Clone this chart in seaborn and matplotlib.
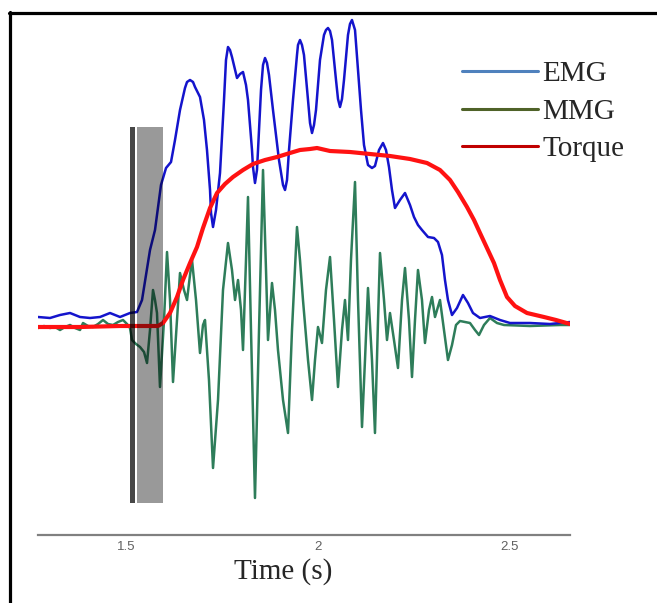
import numpy as np
import pandas as pd
import matplotlib
matplotlib.use("Agg")
import matplotlib.pyplot as plt
from matplotlib.lines import Line2D
import seaborn as sns

# time axis (s) and signal amplitudes (arbitrary units, 0 = resting baseline)
emg_t = [1.2708, 1.3021, 1.3281, 1.3542, 1.3802, 1.4063, 1.4323, 1.4583, 1.4844, 1.5104,
         1.5286, 1.5417, 1.5625, 1.5755, 1.5911, 1.6042, 1.6172, 1.6276, 1.6406, 1.6536,
         1.6589, 1.6667, 1.6745, 1.6797, 1.6927, 1.7031, 1.7109, 1.7188, 1.7214, 1.7266,
         1.7344, 1.7448, 1.7552, 1.7604, 1.7656, 1.7708, 1.7760, 1.7891, 1.7969, 1.8047,
         1.8125, 1.8177, 1.8281, 1.8307, 1.8359, 1.8411, 1.8438, 1.8516, 1.8568, 1.8620,
         1.8672, 1.8724, 1.8828, 1.8984, 1.9089, 1.9141, 1.9193, 1.9245, 1.9349, 1.9453,
         1.9479, 1.9531, 1.9583, 1.9635, 1.9740, 1.9792, 1.9844, 1.9896, 1.9948, 2.0052,
         2.0156, 2.0208, 2.0260, 2.0313, 2.0365, 2.0469, 2.0521, 2.0573, 2.0625, 2.0677,
         2.0781, 2.0833, 2.0885, 2.0964, 2.1042, 2.1120, 2.1198, 2.1302, 2.1406, 2.1484,
         2.1589, 2.1693, 2.1771, 2.1849, 2.1927, 2.2005, 2.2135, 2.2266, 2.2396, 2.2500,
         2.2604, 2.2708, 2.2865, 2.3021, 2.3125, 2.3229, 2.3307, 2.3385, 2.3490, 2.3620,
         2.3776, 2.3906, 2.4036, 2.4219, 2.4479, 2.4740, 2.5000, 2.5521, 2.6042, 2.6563]
emg = [8, 7, 10, 12, 8, 7, 8, 12, 8, 12,
       13, 25, 75, 95, 140, 157, 163, 185, 215, 237,
       243, 245, 243, 238, 228, 205, 175, 135, 112, 98,
       115, 152, 225, 265, 278, 275, 268, 247, 251, 253,
       240, 225, 175, 158, 142, 155, 175, 235, 260, 267,
       262, 250, 215, 165, 140, 135, 145, 175, 225, 270,
       280, 285, 280, 270, 225, 202, 192, 200, 215, 265,
       290, 295, 297, 294, 285, 245, 226, 218, 226, 245,
       290, 301, 305, 295, 255, 215, 180, 160, 157, 159,
       175, 182, 175, 158, 135, 117, 125, 132, 120, 108,
       100, 95, 88, 87, 83, 70, 45, 25, 10, 17,
       30, 22, 12, 7, 9, 5, 2, 2, 1, 3]

torque_t = [1.2708, 1.3802, 1.4844, 1.5833, 1.5964, 1.6146, 1.6328, 1.6484, 1.6667, 1.6849,
            1.7005, 1.7188, 1.7370, 1.7578, 1.7786, 1.8047, 1.8307, 1.8620, 1.8932, 1.9271,
            1.9531, 1.9792, 1.9974, 2.0313, 2.0833, 2.1354, 2.1875, 2.2396, 2.2839, 2.3177,
            2.3438, 2.3646, 2.3880, 2.4063, 2.4219, 2.4401, 2.4583, 2.4740, 2.4922, 2.5130,
            2.5443, 2.5885, 2.6198, 2.6563]
torque = [-2, -2, -1, -1, 2, 12, 28, 45, 62, 78,
          97, 117, 132, 141, 148, 155, 161, 165, 168, 172,
          175, 176, 177, 174, 173, 171, 169, 166, 162, 155,
          145, 133, 118, 105, 92, 77, 62, 45, 28, 19,
          12, 8, 5, 1]

mmg_t = [1.2708, 1.2865, 1.3021, 1.3151, 1.3281, 1.3411, 1.3542, 1.3672, 1.3802, 1.3880,
         1.4010, 1.4141, 1.4271, 1.4401, 1.4531, 1.4661, 1.4792, 1.4922, 1.5026, 1.5104,
         1.5156, 1.5260, 1.5365, 1.5469, 1.5547, 1.5625, 1.5703, 1.5755, 1.5807, 1.5885,
         1.5990, 1.6068, 1.6146, 1.6224, 1.6328, 1.6406, 1.6510, 1.6589, 1.6667, 1.6719,
         1.6823, 1.6927, 1.7005, 1.7057, 1.7161, 1.7266, 1.7396, 1.7526, 1.7656, 1.7760,
         1.7839, 1.7917, 1.7995, 1.8047, 1.8125, 1.8177, 1.8255, 1.8359, 1.8464, 1.8568,
         1.8646, 1.8698, 1.8802, 1.8880, 1.8958, 1.9089, 1.9219, 1.9323, 1.9453, 1.9531,
         1.9609, 1.9740, 1.9844, 1.9922, 2.0000, 2.0104, 2.0208, 2.0313, 2.0417, 2.0521,
         2.0625, 2.0703, 2.0781, 2.0859, 2.0964, 2.1042, 2.1146, 2.1224, 2.1302, 2.1406,
         2.1484, 2.1563, 2.1615, 2.1719, 2.1797, 2.1875, 2.1979, 2.2083, 2.2188, 2.2266,
         2.2370, 2.2448, 2.2526, 2.2604, 2.2708, 2.2786, 2.2891, 2.2969, 2.3047, 2.3177,
         2.3281, 2.3385, 2.3490, 2.3594, 2.3698, 2.3828, 2.3958, 2.4089, 2.4193, 2.4323,
         2.4479, 2.4661, 2.4844, 2.5521, 2.6302, 2.6563]
mmg = [-3, -1, -3, -2, -5, -2, 0, -3, -5, 2,
       -1, -2, 1, 5, 1, 0, 3, 5, 1, -3,
       -15, -19, -22, -27, -38, -5, 35, 25, 12, -62,
       5, 73, 25, -57, 5, 52, 35, 25, 50, 65,
       25, -28, 0, 5, -55, -143, -75, 35, 82, 55,
       25, 45, 15, -25, 65, 128, -5, -173, -5, 155,
       55, -15, 42, 15, -25, -75, -108, -5, 98, 65,
       25, -35, -75, -35, -2, -18, 35, 68, 5, -62,
       -5, 25, -15, 65, 143, 25, -102, -35, 37, -35,
       -108, 5, 72, 25, -15, 12, -15, -43, 25, 57,
       5, -52, 5, 55, 25, -18, 15, 28, 8, 25,
       -5, -35, -20, 0, 4, 3, 2, -5, -10, 0,
       7, 2, 0, -1, 0, 0]

# marked onset window: dark cursor line and shaded detection window (s)
cursor = (1.5091, 1.5227)
window = (1.5279, 1.5971)
window_amp = (-178, 198)

labels = ["EMG", "MMG", "Torque"]
legend_colors = ["#4f81bd", "#4f6228", "#c00000"]

assert len(emg_t) == len(emg) and len(torque_t) == len(torque) and len(mmg_t) == len(mmg)

sns.set_style("white")
plt.rcParams["font.family"] = ["Liberation Sans", "DejaVu Sans"]
plt.rcParams["lines.solid_joinstyle"] = "round"

fig = plt.figure(figsize=(6.57, 6.03), dpi=100)
ax = fig.add_axes([38 / 657, 68 / 603, 532 / 657, 520 / 603])

sns.lineplot(x=mmg_t, y=mmg, ax=ax, color="#2e7d5a", linewidth=1.8, sort=False, zorder=2)
sns.lineplot(x=emg_t, y=emg, ax=ax, color="#1414cc", linewidth=1.8, sort=False, zorder=3)
sns.lineplot(x=torque_t, y=torque, ax=ax, color="#ff1212", linewidth=3.0, sort=False, zorder=4)

# shaded onset window drawn over the traces
ax.fill_between(list(cursor), window_amp[0], window_amp[1], color="black", alpha=0.72,
                linewidth=0, zorder=5)
ax.fill_between(list(window), window_amp[0], window_amp[1], color="black", alpha=0.4,
                linewidth=0, zorder=5)

ax.set_xlim(emg_t[0], emg_t[-1])
ax.set_ylim(-210, 310)
ax.set_yticks([])
ax.set_xticks([1.5, 2, 2.5])
ax.set_xticklabels(["1.5", "2", "2.5"])
for s in ["top", "left", "right"]:
    ax.spines[s].set_visible(False)
ax.spines["bottom"].set_color("#808080")
ax.spines["bottom"].set_linewidth(1.6)
ax.tick_params(axis="x", direction="in", length=7, width=1, color="#707070",
               labelsize=9.5, labelcolor="#606060", pad=4)
ax.set_facecolor("none")

ax.set_xlabel("Time (s)", fontsize=21, family=["Liberation Serif", "DejaVu Serif"])
ax.xaxis.label.set_va("center")
ax.xaxis.set_label_coords(0.46, -0.071)

handles = [Line2D([], [], color=c, lw=2.2) for c in legend_colors]
ax.legend(handles, labels, loc="upper left", bbox_to_anchor=(462 / 657, 1 - 61 / 603),
          bbox_transform=fig.transFigure, frameon=False, handlelength=2.6,
          handletextpad=0.15, labelspacing=0.38, borderpad=0, borderaxespad=0,
          prop={"family": ["Liberation Serif", "DejaVu Serif"], "size": 21})

# black frame on the left and top edges of the figure
fig.add_artist(Line2D([9.5 / 657, 9.5 / 657], [0, 1 - 12 / 603], transform=fig.transFigure,
                      color="black", lw=2.3))
fig.add_artist(Line2D([8.5 / 657, 1], [1 - 12.5 / 603, 1 - 12.5 / 603], transform=fig.transFigure,
                      color="black", lw=2.3))

fig.savefig("out.png", dpi=100)
